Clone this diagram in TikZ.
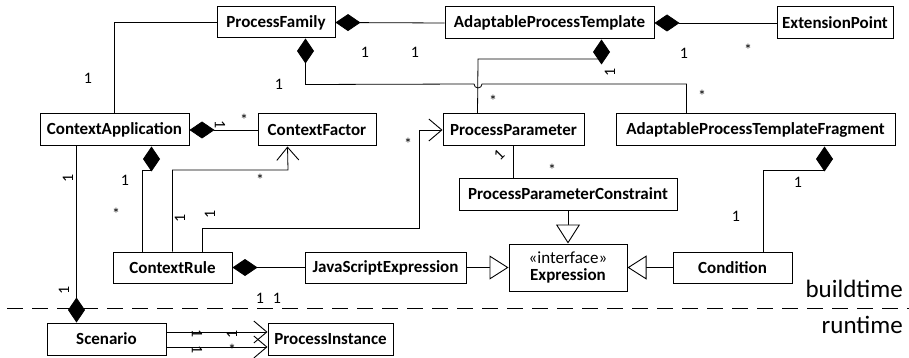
\documentclass[tikz,border=0pt]{standalone}
\usepackage{fontspec}
\setmainfont{Carlito}
\usetikzlibrary{arrows.meta,calc}
\begin{document}
\begin{tikzpicture}[x=1pt,y=-1pt,
  cls/.style={draw,line width=1pt,inner sep=0pt,font=\fontsize{17}{19}\selectfont\bfseries,minimum height=32pt},
  assoc/.style={line width=0.8pt},
  comp/.style={assoc,{Diamond[length=25pt,width=17pt]}-},
  compend/.style={assoc,-{Diamond[length=25pt,width=17pt]}},
  nav/.style={assoc,-{Straight Barb[length=13pt,width=22pt,line width=0.9pt]}},
  real/.style={assoc,-{Triangle[open,length=19pt,width=24pt,line width=0.9pt,fill=white]}},
  mult/.style={font=\fontsize{16}{18}\selectfont,inner sep=0pt},
  side/.style={font=\fontsize{25}{27}\selectfont,inner sep=0pt,anchor=base east}]
\useasboundingbox (0,0) rectangle (909,358);

% classes
\node[cls,minimum width=118pt,minimum height=31pt] (PF) at (276,22.5) {ProcessFamily};
\node[cls,minimum width=209pt] (APT) at (549.5,23) {AdaptableProcessTemplate};
\node[cls,minimum width=116pt] (EP) at (835,23) {ExtensionPoint};
\node[cls,minimum width=149pt] (CA) at (114.5,130) {ContextApplication};
\node[cls,minimum width=118pt] (CF) at (317,130) {ContextFactor};
\node[cls,minimum width=141pt] (PP) at (513.5,130) {ProcessParameter};
\node[cls,minimum width=279pt] (APTF) at (755.5,130) {AdaptableProcessTemplateFragment};
\node[cls,minimum width=218pt] (PPC) at (568,194) {ProcessParameterConstraint};
\node[cls,minimum width=119pt,minimum height=31pt] (CR) at (172.5,267.5) {ContextRule};
\node[cls,minimum width=161pt,minimum height=31pt] (JSE) at (385.5,267.5) {JavaScriptExpression};
\node[cls,minimum width=118pt,minimum height=47pt,align=center] (EXP) at (568,267.5)
  {{\mdseries «interface»}\\[-2pt]Expression};
\node[cls,minimum width=119pt,minimum height=31pt] (COND) at (732.5,267.5) {Condition};
\node[cls,minimum width=119pt] (SC) at (106.5,339) {Scenario};
\node[cls,minimum width=125pt] (PI) at (330.5,339) {ProcessInstance};

% buildtime / runtime separator
\coordinate (sepL) at (7,308);
\coordinate (sepR) at (909,308);
\draw[line width=1pt,dash pattern=on 16pt off 9pt] (sepL) -- (sepR);
\node[side] (bt) at (903,297) {buildtime};
\node[side] (rt) at (903,333) {runtime};

% compositions and associations
\draw[comp] (PF.east) -- (APT.west);
\draw[comp] (APT.east) -- (EP.west);
\draw[assoc] (PF.west) -| (CA.north);
\draw[comp] ($(PF.south west)+(89,0)$) -- ++(0,46) -- (474,84)
  arc[start angle=180,end angle=0,radius=4] -| ($(APTF.north west)+(71,0)$);
\draw[comp] ($(APT.south west)+(157,0)$) |- (478,59) -- ($(PP.north west)+(35,0)$);
\draw[comp] (CA.east) -- (CF.west);
\draw[comp] ($(CA.south west)+(112,0)$) -- ++(0,24) -| ($(CR.north west)+(30,0)$);
\draw[nav] ($(CR.north west)+(60,0)$) |- (288,170) -- ($(CF.south west)+(30,0)$);
\draw[nav] ($(CR.north west)+(89.5,0)$) |- (419,228) |- (PP.west);
\draw[compend] ($(CA.south west)+(37,0)$) -- ($(SC.north west)+(30,0)$);
\draw[assoc] (PP.south) -- (PP.south |- PPC.north);
\draw[real] (PPC.south) -- (EXP.north);
\draw[real] (JSE.east) -- (EXP.west);
\draw[real] (COND.west) -- (EXP.east);
\draw[comp] ($(APTF.south west)+(209,0)$) -- ++(0,24) -| ($(COND.north west)+(90.5,0)$);
\draw[comp] (CR.east) -- (JSE.west);
\draw[nav] ($(SC.east)+(0,-7)$) -- ($(PI.west)+(0,-7)$);
\draw[nav] ($(SC.east)+(0,8)$) -- ($(PI.west)+(0,8)$);

% multiplicities
\node[mult] (m1) at (365,52) {1};
\node[mult] (m2) at (415,52) {1};
\node[mult] (m3) at (684,53) {1};
\node[mult] (m4) at (748,50) {*};
\node[mult] (m5) at (88,78) {1};
\node[mult] (m6) at (279,84) {1};
\node[mult] (m7) at (702,96) {*};
\node[mult,rotate=90] (m8) at (610,72) {1};
\node[mult] (m9) at (493,101) {*};
\node[mult,rotate=-90] (m10) at (220,125) {1};
\node[mult] (m11) at (244,120) {*};
\node[mult] (m12) at (125,180) {1};
\node[mult] (m13) at (116,214) {*};
\node[mult,rotate=90] (m14) at (180,218) {1};
\node[mult] (m15) at (260,180) {*};
\node[mult,rotate=90] (m16) at (210,214) {1};
\node[mult] (m17) at (408,144) {*};
\node[mult,rotate=90] (m18) at (68,178) {1};
\node[mult,rotate=90] (m19) at (64,290) {1};
\node[mult,rotate=45] (m20) at (499,155) {1};
\node[mult] (m21) at (552,170) {*};
\node[mult] (m22) at (798,182) {1};
\node[mult] (m23) at (736,216) {1};
\node[mult] (m24) at (260,298) {1};
\node[mult] (m25) at (277,298) {1};
\node[mult,rotate=-90] (m26) at (197,334) {1};
\node[mult,rotate=90] (m27) at (232,334) {1};
\node[mult,rotate=-90] (m28) at (197,350) {1};
\node[mult] (m29) at (232,350) {*};
\end{tikzpicture}
\end{document}
